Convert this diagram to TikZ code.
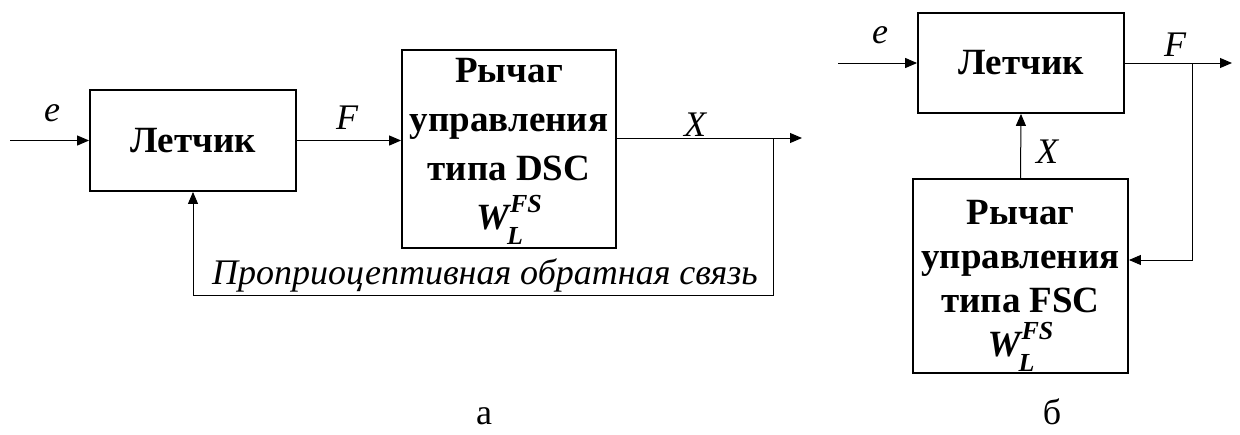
\documentclass[tikz,border=0pt]{standalone}
\usepackage{fontspec}
\setmainfont{Liberation Serif}
\usetikzlibrary{arrows.meta}
\newcommand{\wlfs}{{\fontsize{37}{37}\selectfont\bfseries\itshape W}\kern1pt\rlap{\kern-3pt\raisebox{-15pt}{\fontsize{26}{26}\selectfont\bfseries\itshape L}}\raisebox{17pt}{\fontsize{26}{26}\selectfont\bfseries\itshape FS}}
\begin{document}
\begin{tikzpicture}[x=1pt,y=-1pt,
  blk/.style={draw, line width=1.8pt, inner sep=0pt},
  blktext/.style={inner sep=0pt, align=center, font=\fontsize{37}{49}\selectfont\bfseries},
  conn/.style={line width=1pt, -{Triangle[length=12pt,width=10pt]}},
  lbl/.style={font=\fontsize{36}{40}\selectfont\itshape, inner sep=0pt},
  subcap/.style={font=\fontsize{36}{40}\selectfont, inner sep=0pt, anchor=base}]
\useasboundingbox (0,0) rectangle (1240,434);
% ---------- a ----------
\node[blk, blktext, minimum width=206pt, minimum height=101pt] (pilotA) at (193,140.5) {Летчик};
\node[blk, minimum width=214pt, minimum height=198pt] (leverA) at (509,149) {};
\node[blktext] (leverAtext) at (509,151) {Рычаг\\управления\\типа DSC\\\wlfs};
\coordinate (inA) at (10,140.5);
\coordinate (brA) at (773,138);
\coordinate (outA) at (802,138);
\coordinate (fbA1) at (773,295);
\coordinate (fbA2) at (193,295);
\draw[conn] (inA) -- (pilotA.west);
\draw[conn] (pilotA.east) -- (leverA.west |- pilotA.east);
\draw[conn] (leverA.east |- brA) -- (outA);
\draw[conn] (brA) -- (fbA1) -- (fbA2) -- (pilotA.south);
\node[lbl] (eA) at (52,113) {e};
\node[lbl] (FA) at (347,118) {F};
\node[lbl] (XA) at (695,125) {X};
\node[lbl, anchor=base] (fbtext) at (485,284) {Проприоцептивная обратная связь};
\node[subcap] (capA) at (484,424) {а};
% ---------- b ----------
\node[blk, blktext, minimum width=206pt, minimum height=100pt] (pilotB) at (1021,63) {Летчик};
\node[blk, minimum width=215pt, minimum height=194pt] (leverB) at (1020.5,276) {};
\node[blktext, font=\fontsize{37}{44}\selectfont\bfseries] (leverBtext) at (1020.5,286)
  {Рычаг\\управления\\типа FSC\\\wlfs};
\coordinate (inB) at (838,63);
\coordinate (brB) at (1192,63);
\coordinate (outB) at (1232,63);
\coordinate (fbB) at (1192,260);
\draw[conn] (inB) -- (pilotB.west);
\draw[conn] (pilotB.east) -- (outB);
\draw[conn] (brB) -- (fbB) -- (leverB.east |- fbB);
\draw[conn] (leverB.north) -- (pilotB.south);
\node[lbl] (eB) at (880,35) {e};
\node[lbl] (FB) at (1175,45) {F};
\node[lbl] (XB) at (1047,152) {X};
\node[subcap] (capB) at (1052,424) {б};
\end{tikzpicture}
\end{document}
